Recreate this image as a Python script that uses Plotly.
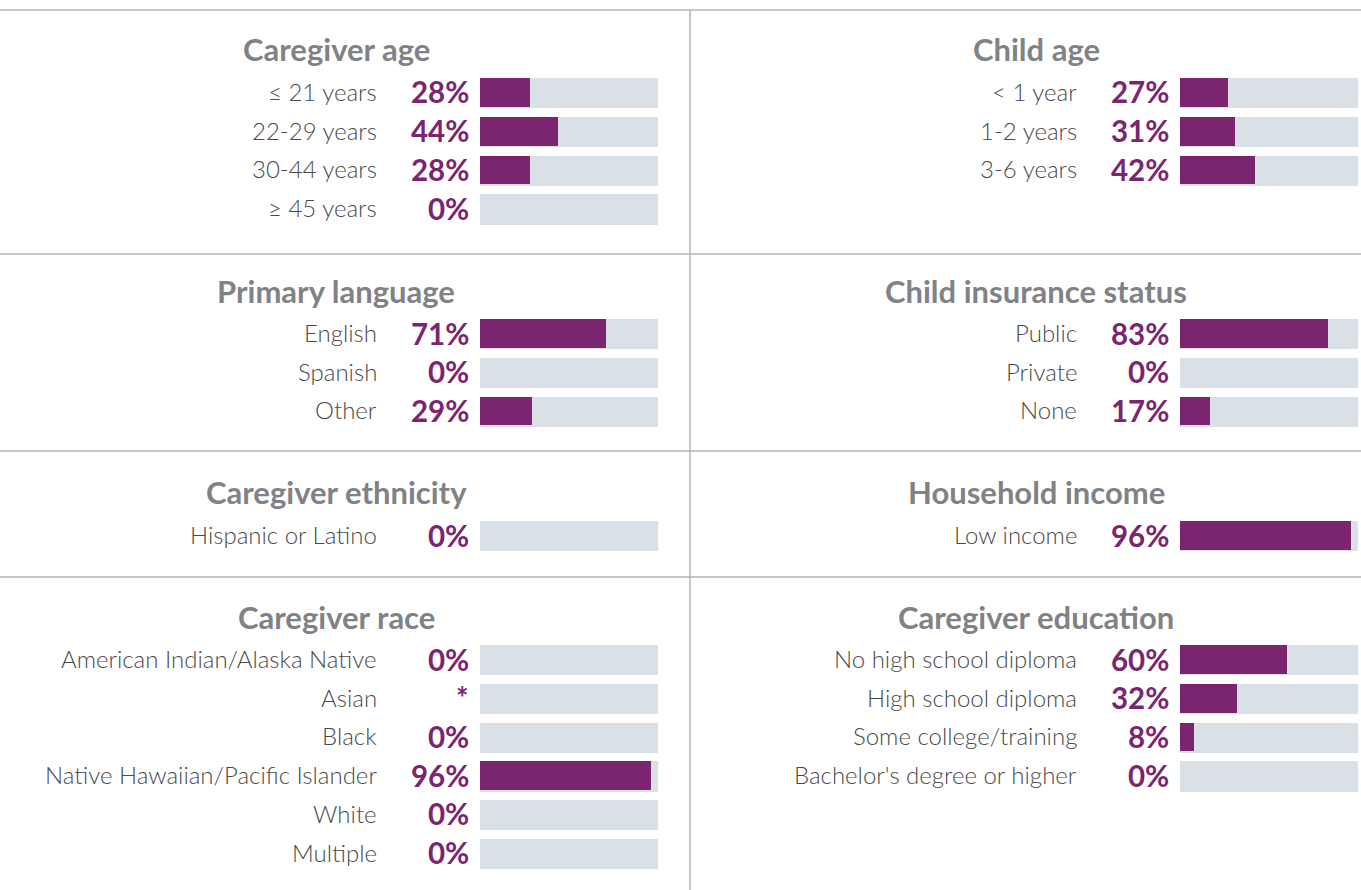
import plotly.graph_objects as go

# ---------------- data ----------------
caregiver_age_labels = ["≤ 21 years", "22-29 years", "30-44 years", "≥ 45 years"]
caregiver_age_values = [28, 44, 28, 0]

child_age_labels = ["< 1 year", "1-2 years", "3-6 years"]
child_age_values = [27, 31, 42]

primary_language_labels = ["English", "Spanish", "Other"]
primary_language_values = [71, 0, 29]

insurance_labels = ["Public", "Private", "None"]
insurance_values = [83, 0, 17]

ethnicity_labels = ["Hispanic or Latino"]
ethnicity_values = [0]

income_labels = ["Low income"]
income_values = [96]

race_labels = ["American Indian/Alaska Native", "Asian", "Black",
               "Native Hawaiian/Pacific Islander", "White", "Multiple"]
race_values = [0, None, 0, 96, 0, 0]   # None = suppressed (*)

education_labels = ["No high school diploma", "High school diploma",
                    "Some college/training", "Bachelor's degree or higher"]
education_values = [60, 32, 8, 0]

panel_titles = ["Caregiver age", "Child age", "Primary language", "Child insurance status",
                "Caregiver ethnicity", "Household income", "Caregiver race", "Caregiver education"]

# ---------------- style / layout ----------------
W, H = 1361, 890
PURPLE = "#7B2470"
TRACK = "#D9E0E6"
LABEL_C = "#4a4a4a"
TITLE_C = "#808285"
LINE_C = "#b5b5b5"
FONT = "Lato"

panels = [
    (caregiver_age_labels, caregiver_age_values),
    (child_age_labels, child_age_values),
    (primary_language_labels, primary_language_values),
    (insurance_labels, insurance_values),
    (ethnicity_labels, ethnicity_values),
    (income_labels, income_values),
    (race_labels, race_values),
    (education_labels, education_values),
]

PITCH = 38.7
first_row_px = [93, 334, 536, 660]        # centre of first bar in each band
band_slots = [4, 3, 1, 6]
col_bar_x = [(480, 658), (1180, 1358)]
col_label_x = [379, 1079]
col_pct_x = [471, 1171]
col_title_x = [336, 1036]

fig = go.Figure()
annotations = []
layout_axes = {}

for k, ((labels, values), title) in enumerate(zip(panels, panel_titles)):
    band, col = divmod(k, 2)
    n = band_slots[band]
    top = first_row_px[band] - PITCH / 2
    bottom = top + n * PITCH
    idx = k + 1
    xa = "x" if idx == 1 else f"x{idx}"
    ya = "y" if idx == 1 else f"y{idx}"
    rows = list(range(len(labels)))

    fig.add_trace(go.Bar(x=[100] * len(labels), y=rows, orientation="h",
                         marker=dict(color=TRACK, line=dict(width=0)), width=0.78,
                         xaxis=xa, yaxis=ya, hoverinfo="skip", showlegend=False))
    fig.add_trace(go.Bar(x=[v if v is not None else 0 for v in values], y=rows,
                         orientation="h", marker=dict(color=PURPLE, line=dict(width=0)),
                         width=0.74, offset=-0.39,
                         xaxis=xa, yaxis=ya, hoverinfo="skip", showlegend=False))

    layout_axes["xaxis" if idx == 1 else f"xaxis{idx}"] = dict(
        domain=[col_bar_x[col][0] / W, col_bar_x[col][1] / W], range=[0, 100],
        visible=False, fixedrange=True, anchor=ya)
    layout_axes["yaxis" if idx == 1 else f"yaxis{idx}"] = dict(
        domain=[1 - bottom / H, 1 - top / H], range=[n - 0.5, -0.5],
        visible=False, fixedrange=True, anchor=xa)

    for r, (lab, v) in enumerate(zip(labels, values)):
        annotations.append(dict(x=col_label_x[col] / W, xref="paper", y=r, yref=ya,
                                text=lab, showarrow=False, xanchor="right", yanchor="middle",
                                yshift=1.5,
                                font=dict(family=FONT, size=24, color=LABEL_C, weight=300)))
        annotations.append(dict(x=col_pct_x[col] / W, xref="paper", y=r, yref=ya,
                                text=("*" if v is None else f"{v}%"), showarrow=False,
                                xanchor="right", yanchor="middle", yshift=1,
                                font=dict(family=FONT, size=29.5, color=PURPLE, weight=700)))
    annotations.append(dict(x=col_title_x[col] / W, xref="paper",
                            y=1 - (first_row_px[band] - 43.5) / H, yref="paper",
                            text=f"<b>{title}</b>", showarrow=False,
                            xanchor="center", yanchor="middle",
                            font=dict(family=FONT, size=31, color=TITLE_C)))

shapes = []
for ypx in [10, 254, 451, 577]:
    shapes.append(dict(type="line", xref="paper", yref="paper", x0=0, x1=1,
                       y0=1 - ypx / H, y1=1 - ypx / H, line=dict(color=LINE_C, width=1.5)))
shapes.append(dict(type="line", xref="paper", yref="paper", x0=690 / W, x1=690 / W,
                   y0=0, y1=1 - 10 / H, line=dict(color=LINE_C, width=1.5)))

fig.update_layout(
    width=W, height=H, margin=dict(l=0, r=0, t=0, b=0),
    paper_bgcolor="white", plot_bgcolor="white",
    barmode="overlay", bargap=0,
    annotations=annotations, shapes=shapes,
    font=dict(family=FONT),
    **layout_axes,
)

fig.write_html("out.html", config={"displayModeBar": False})
